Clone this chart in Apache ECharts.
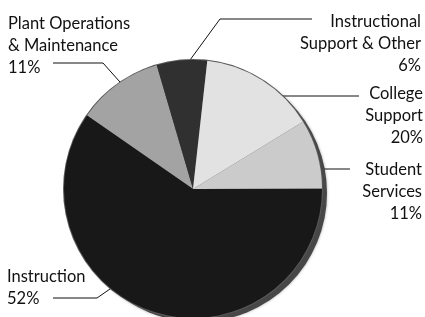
<!DOCTYPE html>
<html>
<head>
<meta charset="utf-8">
<script src="https://cdn.jsdelivr.net/npm/echarts@6/dist/echarts.min.js"></script>
<style>
  html, body { margin: 0; padding: 0; background: #fff; }
  #chart { width: 425px; height: 317px; }
</style>
</head>
<body>
<div id="chart"></div>
<script>
// slices in clockwise order, starting at the Plant Ops / Instruction edge
const categories = ['Plant Operations\n& Maintenance', 'Instructional\nSupport & Other', 'College\nSupport', 'Student\nServices', 'Instruction'];
// share of the circle as drawn in the picture
const sliceShares = [10.8, 6.3, 14.5, 8.7, 59.7];
// percentages as printed on the labels
const printedPercents = ['11%', '6%', '20%', '11%', '52%'];

const sliceColors = ['#a3a3a3', '#303030', '#e2e2e2', '#cbcbcb', '#181818'];

// label placement: text box anchor + leader line
const labelPlaces = [
  { x: 8, y: 13, align: 'left', line: [[128, 91], [103, 63], [53, 63]] },
  { x: 421, y: 11, align: 'right', line: [[190, 60], [220, 19], [312, 19]] },
  { x: 423, y: 83, align: 'right', line: [[275, 96], [359, 96]] },
  { x: 422, y: 159, align: 'right', line: [[307, 169], [350, 169]] },
  { x: 7, y: 266, align: 'left', line: [[143, 266], [97, 298], [53, 298]] }
];

const center = [193, 189];
const radius = 129;

const chart = echarts.init(document.getElementById('chart'));

const option = {
  animation: false,
  series: [
    {
      // drop shadow behind the pie
      type: 'pie',
      silent: true,
      center: [center[0] + 5, center[1] + 4],
      radius: radius,
      label: { show: false },
      labelLine: { show: false },
      itemStyle: {
        color: '#474747',
        shadowBlur: 3,
        shadowColor: 'rgba(0,0,0,0.35)'
      },
      data: [1]
    },
    {
      // thin outline
      type: 'pie',
      silent: true,
      center: center,
      radius: radius + 1,
      label: { show: false },
      labelLine: { show: false },
      itemStyle: { color: '#5a5a5a' },
      data: [1]
    },
    {
      type: 'pie',
      center: center,
      radius: radius,
      startAngle: 145.2,
      clockwise: true,
      avoidLabelOverlap: false,
      data: categories.map((name, i) => ({
        name: name,
        value: sliceShares[i],
        itemStyle: { color: sliceColors[i] },
        label: { align: labelPlaces[i].align }
      })),
      itemStyle: { borderWidth: 0 },
      label: {
        show: true,
        formatter: (p) => p.name + '\n' + printedPercents[p.dataIndex],
        fontFamily: 'Lato',
        fontSize: 16.5,
        lineHeight: 22,
        color: '#111'
      },
      labelLine: {
        show: true,
        lineStyle: { color: '#111', width: 1 }
      },
      labelLayout: function (params) {
        const p = labelPlaces[params.dataIndex];
        return {
          x: p.x,
          y: p.y,
          align: p.align,
          verticalAlign: 'top',
          labelLinePoints: p.line
        };
      }
    }
  ]
};

chart.setOption(option);
</script>
</body>
</html>
